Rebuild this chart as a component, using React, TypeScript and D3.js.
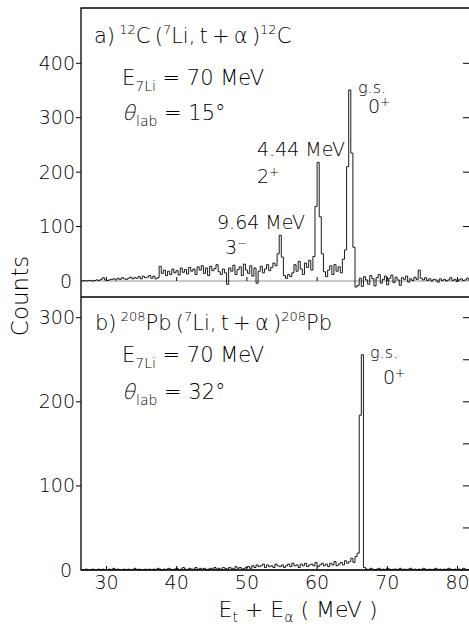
import React from 'react';
import * as d3 from 'd3';

// energy axis of both spectra (MeV)
const energyTicks = [30, 40, 50, 60, 70, 80];
const carbonTicks = [0, 100, 200, 300, 400];
const carbonRightTicks = [100, 200, 300, 400];
const leadTicks = [0, 100, 200, 300];
const leadRightTicks = [50, 100, 150, 200, 250, 300];

// histogram bins: first bin edge and bin width in MeV
const binStart = 26.4;
const binWidth = 0.3;

// a) 12C(7Li,t+a)12C, counts per bin
const carbonCounts = [
    0, 1, 0, 1, 1, 0, 1, 2, 1, 3,
    6, 2, 1, 2, 3, 4, 2, 5, 3, 6,
    4, 3, 5, 7, 4, 6, 5, 8, 4, 9,
    6, 7, 10, 5, 9, 4, 6, 27, 14, 20,
    10, 18, 12, 22, 15, 19, 11, 24, 16, 21,
    13, 25, 18, 22, 12, 26, 20, 28, 14, 24,
    10, 27, 19, 23, 30, 17, 12, 22, 15, -6,
    24, 18, 29, 12, 21, 26, 10, 31, 20, 14,
    28, 9, 24, -4, 18, 27, 15, 22, 30, 19,
    25, 33, 28, 50, 84, 44, 10, 5, 12, 8,
    15, 30, 18, 36, 22, 12, 33, 25, 38, 20,
    45, 137, 218, 118, 50, 17, 8, 20, 28, 12,
    30, 18, 26, 15, 40, 57, 210, 351, 235, 62,
    -11, -8, 5, -10, 8, 2, -6, 10, 4, -9,
    6, 12, -4, 3, 9, -7, 5, 11, -3, 7,
    2, -8, 6, 3, 9, -2, 4, 1, 7, 3,
    20, 5, 2, 6, 1, 4, 0, 3, 2, -2,
    4, 1, 3, 0, 2, 6, 1, 3, -1, 2,
    4, 1, 2, 5, 1, 2
];

// b) 208Pb(7Li,t+a)208Pb, counts per bin
const leadCounts = [
    0, 0, 1, 0, 0, 1, 0, 0, 1, 0,
    1, 0, 0, 1, 0, 2, 0, 1, 0, 0,
    1, 0, 1, 0, 0, 2, 0, 1, 0, 0,
    1, 0, 1, 0, 1, 0, 2, 1, 0, 1,
    0, 2, 1, 0, 1, 2, 0, 1, 3, 1,
    0, 2, 1, 1, 3, 0, 2, 1, 2, 0,
    1, 2, 1, 3, 1, 2, 0, 3, 2, 1,
    3, 2, 1, 4, 2, 3, 1, 2, 3, 4,
    2, 5, 3, 6, 4, 5, 7, 3, 6, 4,
    5, 3, 7, 5, 4, 6, 3, 5, 7, 4,
    8, 5, 6, 3, 7, 5, 8, 4, 6, 7,
    5, 9, 4, 6, 8, 5, 7, 4, 8, 6,
    10, 5, 7, 9, 6, 11, 8, 10, 14, 9,
    16, 20, 184, 256, 3, 1, 0, 2, 1, 0,
    1, 2, 0, 1, 0, 2, 1, 0, 1, 1,
    0, 2, 0, 1, 0, 1, 2, 0, 1, 0,
    1, 0, 2, 1, 0, 1, 0, 1, 2, 0,
    1, 0, 1, 0, 2, 1, 0, 1, 0, 1,
    0, 2, 1, 0, 1, 0
];

const left = 81, right = 470, top = 8, mid = 297, bottom = 570;
const font = "'DejaVu Sans', sans-serif";
const ink = '#000';
const thin = '\u2009';

const x = d3.scaleLinear().domain([30, 80]).range([106.5, 457.5]);
const yCarbon = d3.scaleLinear().domain([0, 400]).range([281, 63.3]);
const yLead = d3.scaleLinear().domain([0, 300]).range([570, 317.7]);

const stepPath = (counts: number[], y: d3.ScaleLinear<number, number>) => {
    const pts: [number, number][] = counts.map((c, i) => [binStart + i * binWidth, c]);
    pts.push([binStart + counts.length * binWidth, counts[counts.length - 1]]);
    return d3.line<[number, number]>()
        .x(d => x(d[0]))
        .y(d => y(d[1]))
        .curve(d3.curveStepAfter)(pts) || '';
};

const Sup = ({ children, up = 9, size = 13 }: any) => (
    <tspan dy={-up} fontSize={size}>{children}</tspan>
);

const Panel = ({ counts, y, y0, y1, ticks, rightTicks, id }: any) => (
    <g>
        <clipPath id={id}>
            <rect x={left} y={y0} width={right - left} height={y1 - y0} />
        </clipPath>
        {/* zero line */}
        <line x1={left} x2={right} y1={y(0)} y2={y(0)} stroke="#777" strokeWidth={0.8} />
        <path d={stepPath(counts, y)} fill="none" stroke={ink} strokeWidth={0.9}
            clipPath={`url(#${id})`} />
        {ticks.map((t: number) => (
            <g key={t}>
                {t !== 0 && <line x1={left - 5} x2={left} y1={y(t)} y2={y(t)} stroke={ink} strokeWidth={1} />}
                <text x={t === 0 ? 72 : 75} y={y(t) + 6.5} textAnchor="end" fontSize={19}
                    fontFamily={font} fontWeight={200} fill={ink}>{t}</text>
            </g>
        ))}
        {rightTicks.map((t: number) => (
            <line key={t} x1={right - 7} x2={right} y1={y(t)} y2={y(t)} stroke={ink} strokeWidth={1} />
        ))}
        {energyTicks.map(t => (
            <line key={t} x1={x(t)} x2={x(t)} y1={y(0)} y2={y(0) - 4} stroke={ink} strokeWidth={1} />
        ))}
    </g>
);

// italic-looking theta in the light face, followed by "lab = angle"
const Theta = ({ x0, y0, angle, txt }: any) => (
    <>
        <text transform={`translate(${x0},${y0}) skewX(-14)`} fontSize={21} {...txt}>θ</text>
        <text x={x0 + 14} y={y0} fontSize={21} {...txt}>
            <tspan dy={6} fontSize={14}>lab</tspan><tspan dy={-6}> = {angle}°</tspan>
        </text>
    </>
);

export default function App() {
    const txt = { fontFamily: font, fontWeight: 200, fill: ink } as any;
    return (
        <svg width={469} height={628} style={{ position: 'absolute', left: 0, top: 0, background: '#fff' }}>
            <rect width={469} height={628} fill="#fff" />
            <Panel counts={carbonCounts} y={yCarbon} y0={top} y1={mid} ticks={carbonTicks}
                rightTicks={carbonRightTicks} id="clipA" />
            <Panel counts={leadCounts} y={yLead} y0={mid} y1={bottom} ticks={leadTicks}
                rightTicks={leadRightTicks} id="clipB" />

            {/* frames */}
            <path d={`M${right},${top}H${left}V${bottom}H${right}M${left},${mid}H${right}`}
                fill="none" stroke={ink} strokeWidth={1.3} />

            {/* x tick labels */}
            {energyTicks.map(t => (
                <text key={t} x={x(t)} y={589} textAnchor="middle" fontSize={19} {...txt}>{t}</text>
            ))}

            {/* panel a annotations */}
            <text x={94} y={43} fontSize={21} {...txt}>
                a){thin}<Sup>12</Sup><tspan dy={9}>C{thin}(</tspan><Sup>7</Sup>
                <tspan dy={9}>Li,{thin}t{thin}+{thin}α{thin})</tspan>
                <Sup>12</Sup><tspan dy={9}>C</tspan>
            </text>
            <text x={122} y={85} fontSize={21} {...txt}>
                E<tspan dy={6} fontSize={14}>7Li</tspan><tspan dy={-6}> = 70 MeV</tspan>
            </text>
            <Theta x0={122} y0={120} angle={15} txt={txt} />
            <text x={358} y={93} fontSize={16} {...txt}>g.s.</text>
            <text x={368} y={113} fontSize={19} {...txt}>0<tspan dy={-7} fontSize={12}>+</tspan></text>
            <text x={257} y={156} fontSize={19} {...txt}>4.44 MeV</text>
            <text x={257} y={183} fontSize={19} {...txt}>2<tspan dy={-7} fontSize={12}>+</tspan></text>
            <text x={217} y={229} fontSize={19} {...txt}>9.64 MeV</text>
            <text x={225} y={254} fontSize={19} {...txt}>3<tspan dy={-7} fontSize={12}>−</tspan></text>

            {/* panel b annotations */}
            <text x={95} y={330} fontSize={21} {...txt}>
                b){thin}<Sup>208</Sup><tspan dy={9}>Pb{thin}(</tspan><Sup>7</Sup>
                <tspan dy={9}>Li,{thin}t{thin}+{thin}α{thin})</tspan>
                <Sup>208</Sup><tspan dy={9}>Pb</tspan>
            </text>
            <text x={122} y={362} fontSize={21} {...txt}>
                E<tspan dy={6} fontSize={14}>7Li</tspan><tspan dy={-6}> = 70 MeV</tspan>
            </text>
            <Theta x0={122} y0={399} angle={32} txt={txt} />
            <text x={370} y={358} fontSize={16} {...txt}>g.s.</text>
            <text x={383} y={384} fontSize={19} {...txt}>0<tspan dy={-7} fontSize={12}>+</tspan></text>

            {/* axis titles */}
            <text transform="translate(28,296) rotate(-90)" textAnchor="middle" fontSize={23} {...txt}>Counts</text>
            <text x={298} y={617} textAnchor="middle" fontSize={22} {...txt}>
                E<tspan dy={5} fontSize={14}>t</tspan><tspan dy={-5}> + E</tspan><tspan dy={5} fontSize={14}>α</tspan>
                <tspan dy={-5}> ( MeV )</tspan>
            </text>
        </svg>
    );
}
